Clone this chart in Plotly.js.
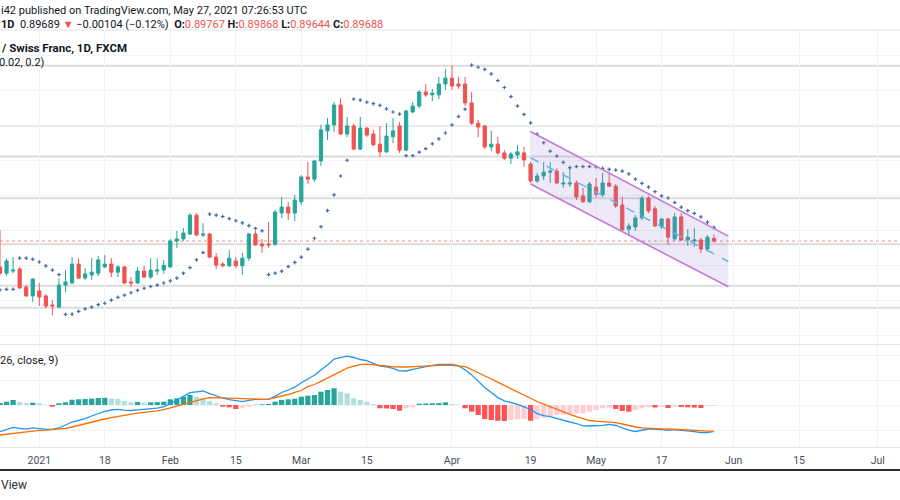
<!DOCTYPE html>
<html><head><meta charset="utf-8">
<script src="https://cdn.plot.ly/plotly-3.0.1.min.js"></script>
<style>html,body{margin:0;padding:0;background:#fff}#chart{width:900px;height:500px}</style>
</head><body><div id="chart"></div>
<script>
// ---- data (USD/CHF daily) ----
const firstDay = '2020-12-23';
const holidays = ['2020-12-25', '2021-01-01'];

const openP = [0.8895,0.8877,0.8883,0.8889,0.8837,0.8812,
0.8826,0.8812,0.8786,0.8780,0.8843,0.8849,0.8903,0.8863,0.8872,0.8877,
0.8895,0.8903,0.8880,0.8895,0.8852,0.8849,0.8883,0.8866,0.8883,0.8886,
0.8895,0.8969,0.8975,0.8989,0.9043,0.8986,0.8989,0.8923,0.8903,0.8898,
0.8912,0.8898,0.8920,0.8989,0.8960,0.8960,0.8960,0.9049,0.9066,0.9049,
0.9081,0.9152,0.9146,0.9198,0.9284,0.9301,0.9358,0.9275,0.9298,0.9232,
0.9292,0.9275,0.9246,0.9224,0.9267,0.9298,0.9229,0.9338,0.9355,0.9395,
0.9387,0.9387,0.9418,0.9435,0.9418,0.9418,0.9364,0.9306,0.9298,0.9238,
0.9246,0.9221,0.9206,0.9215,0.9221,0.9189,0.9141,0.9155,0.9166,0.9169,
0.9132,0.9132,0.9135,0.9098,0.9081,0.9123,0.9101,0.9135,0.9126,0.9072,
0.9003,0.9009,0.9035,0.9092,0.9061,0.9009,0.9032,0.8975,0.9038,0.8972,
0.8969,0.8972,0.8946,0.89767];
const highP = [0.9000,0.8920,0.8923,0.8895,0.8843,0.8863,
0.8849,0.8817,0.8800,0.8863,0.8886,0.8923,0.8920,0.8892,0.8920,0.8926,
0.8929,0.8920,0.8900,0.8898,0.8866,0.8895,0.8898,0.8920,0.8920,0.8915,
0.8975,0.8998,0.9006,0.9049,0.9049,0.9020,0.8992,0.8935,0.8909,0.8943,
0.8923,0.8935,0.8992,0.8998,0.8975,0.9023,0.9058,0.9095,0.9081,0.9101,
0.9158,0.9195,0.9201,0.9301,0.9321,0.9367,0.9378,0.9324,0.9304,0.9324,
0.9295,0.9287,0.9298,0.9306,0.9321,0.9309,0.9344,0.9367,0.9401,0.9418,
0.9404,0.9438,0.9461,0.9472,0.9438,0.9438,0.9395,0.9315,0.9301,0.9284,
0.9267,0.9229,0.9224,0.9244,0.9238,0.9195,0.9164,0.9195,0.9195,0.9178,
0.9166,0.9181,0.9143,0.9121,0.9138,0.9149,0.9164,0.9164,0.9132,0.9095,
0.9020,0.9043,0.9098,0.9098,0.9069,0.9035,0.9035,0.9049,0.9049,0.9003,
0.9006,0.8978,0.8986,0.89868];
const lowP = [0.8872,0.8869,0.8877,0.8832,0.8809,0.8795,
0.8783,0.8777,0.8757,0.8777,0.8823,0.8846,0.8860,0.8858,0.8858,0.8869,
0.8892,0.8866,0.8866,0.8846,0.8837,0.8846,0.8863,0.8860,0.8872,0.8875,
0.8892,0.8949,0.8969,0.8986,0.8983,0.8980,0.8920,0.8889,0.8895,0.8895,
0.8892,0.8872,0.8912,0.8955,0.8935,0.8949,0.8955,0.9035,0.9029,0.9026,
0.9072,0.9132,0.9138,0.9184,0.9258,0.9281,0.9272,0.9266,0.9229,0.9229,
0.9266,0.9241,0.9209,0.9221,0.9249,0.9221,0.9226,0.9335,0.9349,0.9381,
0.9369,0.9375,0.9401,0.9401,0.9404,0.9355,0.9301,0.9266,0.9232,0.9226,
0.9215,0.9201,0.9189,0.9204,0.9181,0.9135,0.9135,0.9143,0.9135,0.9132,
0.9121,0.9123,0.9086,0.9078,0.9078,0.9092,0.9095,0.9123,0.9063,0.8998,
0.8986,0.8998,0.9029,0.9049,0.9009,0.9003,0.8958,0.8969,0.8969,0.8955,
0.8952,0.8935,0.8943,0.89644];
const closeP = [0.8877,0.8912,0.8886,0.8835,0.8812,0.8860,
0.8809,0.8783,0.8783,0.8843,0.8852,0.8903,0.8863,0.8875,0.8880,0.8915,
0.8903,0.8880,0.8895,0.8849,0.8849,0.8883,0.8866,0.8886,0.8886,0.8900,
0.8969,0.8975,0.8992,0.9043,0.8986,0.8989,0.8923,0.8900,0.8898,0.8920,
0.8898,0.8920,0.8989,0.8958,0.8955,0.8958,0.9052,0.9066,0.9049,0.9086,
0.9152,0.9146,0.9198,0.9287,0.9301,0.9358,0.9275,0.9298,0.9232,0.9292,
0.9272,0.9244,0.9224,0.9269,0.9284,0.9229,0.9341,0.9355,0.9395,0.9387,
0.9392,0.9418,0.9435,0.9412,0.9412,0.9364,0.9306,0.9295,0.9238,0.9246,
0.9221,0.9206,0.9218,0.9224,0.9201,0.9141,0.9155,0.9166,0.9169,0.9135,
0.9135,0.9135,0.9095,0.9081,0.9132,0.9103,0.9135,0.9126,0.9069,0.9001,
0.9012,0.9035,0.9092,0.9055,0.9012,0.9032,0.8980,0.9038,0.8972,0.8980,
0.8972,0.8946,0.8980,0.89689];
// Parabolic SAR (0.02, 0.02, 0.2)
const sar = [0.8829,0.8831,0.8831,0.8920,0.8920,0.8917,0.8909,0.8898,0.8886,0.8873,
0.8759,0.8760,0.8768,0.8775,0.8780,0.8787,0.8791,0.8800,0.8808,0.8814,0.8821,0.8828,0.8834,0.8839,0.8843,0.8849,0.8855,0.8863,0.8877,0.8893,0.8915,0.8936,
0.9046,0.9043,0.9039,0.9033,0.9027,0.9021,0.9013,0.9005,0.8998,
0.8873,0.8877,0.8883,0.8896,0.8908,0.8923,0.8946,0.8977,0.9010,0.9056,0.9101,0.9155,0.9200,
0.9375,0.9372,0.9366,0.9362,0.9357,0.9347,0.9338,0.9332,
0.9213,0.9213,0.9223,0.9233,0.9247,0.9261,0.9278,0.9301,0.9325,0.9346,
0.9472,0.9466,0.9460,0.9447,0.9428,0.9408,0.9382,0.9355,0.9331,0.9307,
0.9275,0.9250,0.9226,0.9212,0.9194,0.9179,0.9182,0.9182,0.9182,0.9181,
0.9177,0.9174,0.9172,0.9169,0.9161,0.9146,0.9134,0.9123,0.9110,0.9098,
0.9092,0.9079,0.9066,0.9056,0.9048,0.9038,0.9023,0.9008];
// MACD (12, 26, close, 9)
const macd = [-0.00534,-0.00490,-0.00446,-0.00466,-0.00484,-0.00456,
-0.00474,-0.00486,-0.00486,-0.00460,-0.00400,-0.00340,-0.00306,-0.00274,-0.00220,-0.00172,
-0.00128,-0.00100,-0.00088,-0.00104,-0.00110,-0.00098,-0.00084,-0.00076,-0.00064,-0.00034,
0.00020,0.00100,0.00172,0.00246,0.00262,0.00280,0.00228,0.00180,0.00140,0.00106,
0.00084,0.00068,0.00094,0.00114,0.00114,0.00114,0.00174,0.00250,0.00300,0.00356,
0.00444,0.00514,0.00596,0.00700,0.00800,0.00920,0.00956,0.00978,0.00950,0.00910,
0.00886,0.00832,0.00780,0.00762,0.00732,0.00682,0.00680,0.00712,0.00742,0.00776,
0.00794,0.00812,0.00818,0.00812,0.00786,0.00706,0.00602,0.00470,0.00352,0.00248,
0.00148,0.00084,0.00052,0.00012,-0.00038,-0.00090,-0.00172,-0.00212,-0.00234,-0.00270,
-0.00314,-0.00340,-0.00370,-0.00418,-0.00420,-0.00420,-0.00406,-0.00388,-0.00410,-0.00456,
-0.00504,-0.00530,-0.00504,-0.00480,-0.00484,-0.00490,-0.00508,-0.00494,-0.00504,-0.00514,
-0.00532,-0.00552,-0.00552,-0.00526];
const signal = [-0.00600,-0.00584,-0.00570,-0.00554,-0.00536,-0.00516,
-0.00508,-0.00504,-0.00496,-0.00480,-0.00468,-0.00440,-0.00406,-0.00374,-0.00342,-0.00310,
-0.00280,-0.00254,-0.00228,-0.00206,-0.00184,-0.00164,-0.00148,-0.00138,-0.00118,-0.00092,
-0.00064,-0.00024,0.00014,0.00052,0.00094,0.00124,0.00146,0.00150,0.00144,0.00138,
0.00132,0.00122,0.00118,0.00114,0.00114,0.00118,0.00148,0.00174,0.00210,0.00252,
0.00290,0.00366,0.00410,0.00474,0.00540,0.00608,0.00674,0.00738,0.00778,0.00806,
0.00816,0.00808,0.00800,0.00780,0.00764,0.00756,0.00760,0.00766,0.00774,0.00780,
0.00788,0.00794,0.00798,0.00794,0.00786,0.00766,0.00710,0.00652,0.00582,0.00520,
0.00456,0.00390,0.00324,0.00260,0.00192,0.00126,0.00070,0.00016,-0.00038,-0.00090,
-0.00140,-0.00186,-0.00232,-0.00270,-0.00310,-0.00324,-0.00332,-0.00344,-0.00352,-0.00380,
-0.00412,-0.00440,-0.00456,-0.00468,-0.00472,-0.00478,-0.00480,-0.00488,-0.00494,-0.00500,
-0.00508,-0.00518,-0.00522,-0.00526];
const hist = [0.00040,0.00066,0.00100,0.00060,0.00034,0.00046,
0.00034,0.00006,-0.00034,0.00034,0.00054,0.00106,0.00114,0.00120,0.00126,0.00140,
0.00144,0.00126,0.00120,0.00080,0.00054,0.00060,0.00046,0.00054,0.00058,0.00066,
0.00114,0.00134,0.00166,0.00200,0.00166,0.00134,0.00080,0.00034,-0.00034,-0.00046,
-0.00080,-0.00054,-0.00034,0.00006,0.00014,0.00020,0.00066,0.00100,0.00114,0.00126,
0.00166,0.00186,0.00200,0.00266,0.00300,0.00334,0.00266,0.00234,0.00134,0.00100,
0.00066,0.00020,-0.00066,-0.00070,-0.00080,-0.00114,-0.00066,-0.00046,0.00026,0.00030,
0.00034,0.00038,0.00054,0.00020,0.00008,-0.00066,-0.00134,-0.00200,-0.00280,-0.00300,
-0.00314,-0.00320,-0.00300,-0.00286,-0.00280,-0.00314,-0.00286,-0.00254,-0.00220,-0.00200,
-0.00194,-0.00180,-0.00174,-0.00166,-0.00134,-0.00100,-0.00066,-0.00054,-0.00080,-0.00120,
-0.00134,-0.00100,-0.00066,-0.00046,-0.00050,-0.00034,-0.00060,-0.00026,-0.00040,-0.00046,
-0.00050,-0.00060,-0.00020,-0.00014];
// horizontal levels drawn on the chart
const levels = [0.9470, 0.9299, 0.9211, 0.9091, 0.8960, 0.8841, 0.8778];
// descending channel drawing (anchor dates and prices)
const channelDates = ['2021-04-19', '2021-05-31'];
const channelEndShift = 0.2;
const channelUpper = [0.9282, 0.8983];
const channelLower = [0.9132, 0.8838];
// time axis labels
const tickDates = ['2021-01-04','2021-01-18','2021-02-01','2021-02-15','2021-03-01','2021-03-15','2021-04-01','2021-04-19','2021-05-03','2021-05-17','2021-06-01','2021-06-15','2021-07-01'];
const tickText = ['2021','18','Feb','15','Mar','15','Apr','19','May','17','Jun','15','Jul'];

// ---- trading-day calendar (weekdays, no holidays) ----
const calendar = [];
(function(){
  const p = firstDay.split('-').map(Number);
  let d = new Date(Date.UTC(p[0], p[1]-1, p[2]));
  while (calendar.length < 150) {
    const s = d.toISOString().slice(0,10);
    const wd = d.getUTCDay();
    if (wd !== 0 && wd !== 6 && holidays.indexOf(s) < 0) calendar.push(s);
    d = new Date(d.getTime() + 86400000);
  }
})();
const xs = closeP.map((_, k) => k);
const dates = xs.map(k => calendar[k]);
const tickVals = tickDates.map(s => calendar.indexOf(s));
const chX = [calendar.indexOf(channelDates[0]), calendar.indexOf(channelDates[1]) + channelEndShift];
const chMid = [(channelUpper[0]+channelLower[0])/2, (channelUpper[1]+channelLower[1])/2];
const lastClose = closeP[closeP.length-1];

const histColors = hist.map((v, k) => {
  const prev = k > 0 ? hist[k-1] : v;
  if (v >= 0) return v >= prev ? '#26a69a' : '#b2dfdb';
  return v < prev ? '#ff5252' : '#ffcdd2';
});

const UP = '#26a69a', DN = '#ef5350';
const FONT = 'Roboto, "Liberation Sans", sans-serif';

const traces = [
  {type:'bar', x: xs, y: hist, xaxis:'x', yaxis:'y2', width:0.8,
   marker:{color: histColors, line:{width:0}}, hoverinfo:'skip'},
  {type:'scatter', mode:'lines', x: xs, y: macd, xaxis:'x', yaxis:'y2',
   line:{color:'#2196f3', width:1.3}, hoverinfo:'skip'},
  {type:'scatter', mode:'lines', x: xs, y: signal, xaxis:'x', yaxis:'y2',
   line:{color:'#ff6d00', width:1.3}, hoverinfo:'skip'},
  {type:'candlestick', x: xs, open: openP, high: highP, low: lowP, close: closeP,
   xaxis:'x', yaxis:'y', whiskerwidth:0,
   increasing:{line:{color:UP, width:1}, fillcolor:UP},
   decreasing:{line:{color:DN, width:1}, fillcolor:DN}, hoverinfo:'skip'},
  {type:'scatter', mode:'markers', x: xs, y: sar, xaxis:'x', yaxis:'y',
   marker:{symbol:'cross', size:3, color:'#4a68ad', line:{width:0}}, hoverinfo:'skip'}
];

const shapes = [];
levels.forEach(v => shapes.push({type:'line', xref:'paper', x0:0, x1:1, yref:'y', y0:v, y1:v,
  line:{color:'#dcdcdc', width:2}, layer:'below'}));
shapes.push({type:'line', xref:'paper', x0:0, x1:1, yref:'y', y0:lastClose, y1:lastClose,
  line:{color:'#f28b8b', width:1, dash:'dot'}, layer:'below'});
shapes.push({type:'path', xref:'x', yref:'y',
  path:'M'+chX[0]+','+channelUpper[0]+' L'+chX[1]+','+channelUpper[1]+' L'+chX[1]+','+channelLower[1]+' L'+chX[0]+','+channelLower[0]+' Z',
  fillcolor:'rgba(149,117,205,0.16)', line:{width:0}, layer:'above'});
shapes.push({type:'line', xref:'x', yref:'y', x0:chX[0], x1:chX[1], y0:channelUpper[0], y1:channelUpper[1],
  line:{color:'#c27ad4', width:1.6}, layer:'above'});
shapes.push({type:'line', xref:'x', yref:'y', x0:chX[0], x1:chX[1], y0:channelLower[0], y1:channelLower[1],
  line:{color:'#c27ad4', width:1.6}, layer:'above'});
shapes.push({type:'line', xref:'x', yref:'y', x0:chX[0], x1:chX[1], y0:chMid[0], y1:chMid[1],
  line:{color:'#64b5f6', width:1.5, dash:'dash'}, layer:'above'});
// frame lines
shapes.push({type:'line', xref:'paper', yref:'paper', x0:0, x1:1, y0:1-30/500, y1:1-30/500, line:{color:'#e0e3eb', width:1}});
shapes.push({type:'line', xref:'paper', yref:'paper', x0:0, x1:1, y0:1-344.5/500, y1:1-344.5/500, line:{color:'#e0e3eb', width:1}});
shapes.push({type:'line', xref:'paper', yref:'paper', x0:0, x1:1, y0:1-447.5/500, y1:1-447.5/500, line:{color:'#e0e3eb', width:1}});
shapes.push({type:'line', xref:'paper', yref:'paper', x0:0, x1:1, y0:1-470/500, y1:1-470/500, line:{color:'#2a2e39', width:2}});

const R = '#ef5350';
function ann(text, ypx, size, color, xshift) {
  return {xref:'paper', yref:'paper', x:0, y:1-ypx/500, xanchor:'left', yanchor:'middle',
    text:text, showarrow:false, xshift: xshift||0, font:{family:FONT, size:size, color:color||'#131722'}};
}
const annotations = [
  ann('i42 published on TradingView.com, May 27, 2021 07:26:53 UTC', 10, 11, '#131722', -1),
  ann('<b>1D</b>  0.89689 <span style="color:'+R+'">▼</span> −0.00104 (−0.12%)  <b>O:</b><span style="color:'+R+'">0.89767</span> <b>H:</b><span style="color:'+R+'">0.89868</span> <b>L:</b><span style="color:'+R+'">0.89644</span> <b>C:</b><span style="color:'+R+'">0.89688</span>', 24, 11, '#131722', -1),
  ann('<b>/ Swiss Franc, 1D, FXCM</b>', 48, 11.5, '#131722', -1),
  ann('0.02, 0.2)', 62, 11, '#131722', -3),
  ann('26, close, 9)', 360, 11, '#131722', -2),
  ann('View', 485, 12, '#2a2e39', -1)
];

const layout = {
  width:900, height:500, margin:{l:0, r:0, t:0, b:0},
  paper_bgcolor:'#ffffff', plot_bgcolor:'#ffffff', showlegend:false, hovermode:false,
  bargap:0.15,
  xaxis:{type:'linear', range:[0, 137.4], anchor:'y2', tickmode:'array', tickvals:tickVals, ticktext:tickText,
    showgrid:true, gridcolor:'#f0f3fa', gridwidth:1, zeroline:false, showline:false,
    ticks:'outside', ticklen:3, tickcolor:'rgba(0,0,0,0)',
    tickfont:{family:FONT, size:10.5, color:'#4a4e59'}, rangeslider:{visible:false}, fixedrange:true},
  yaxis:{domain:[1-344/500, 1-30/500], range:[0.86745, 0.95725], showticklabels:false,
    tick0:0, dtick:0.01, showgrid:true, gridcolor:'#f0f3fa', zeroline:false, fixedrange:true},
  yaxis2:{domain:[1-447/500, 1-345/500], range:[-0.0084, 0.012], showticklabels:false,
    tick0:0, dtick:0.005, showgrid:true, gridcolor:'#f0f3fa', zeroline:false, fixedrange:true},
  shapes:shapes, annotations:annotations
};

Plotly.newPlot('chart', traces, layout, {staticPlot:true, displayModeBar:false});
</script>
</body></html>
